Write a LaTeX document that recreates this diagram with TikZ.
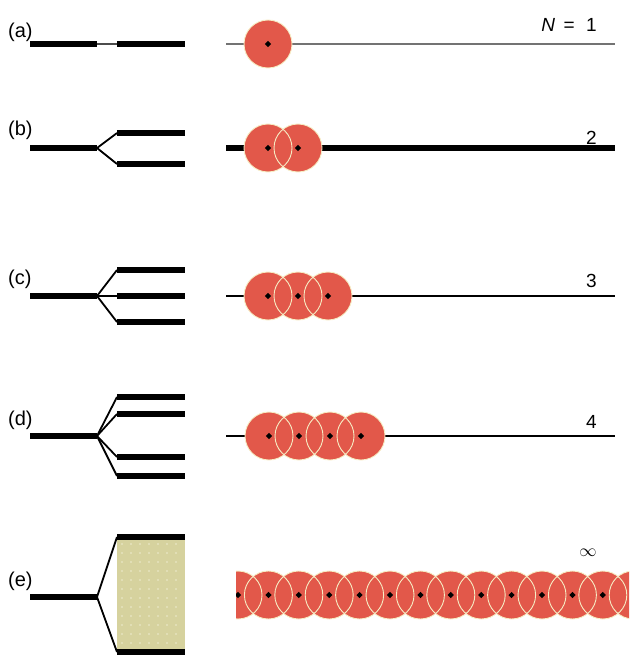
\documentclass[tikz,border=0pt]{standalone}
\usepackage{fontspec}
\setmainfont{Liberation Sans}
\definecolor{beadred}{RGB}{226,88,74}
\definecolor{beadrim}{RGB}{246,236,196}
\definecolor{cladding}{RGB}{214,210,158}
\definecolor{claddot}{RGB}{238,236,205}
\begin{document}
\begin{tikzpicture}[x=1pt,y=-1pt,
  fiber/.style={line width=5.5pt,black},
  taper/.style={line width=1.8pt,black},
  thinfiber/.style={line width=1.5pt,black},
  caselabel/.style={font=\fontsize{20}{20}\selectfont,anchor=base west,inner sep=0pt},
  countlabel/.style={font=\fontsize{19}{19}\selectfont,anchor=base east,inner sep=0pt},
  bead/.style={fill=beadred},
  rim/.style={draw=beadrim,line width=0.9pt},
  core/.style={fill=black,rotate=45,minimum size=4.4pt,inner sep=0pt,draw=none,rectangle}]
\useasboundingbox (0,0) rectangle (629,655);

% beads along a line: #1 = y, #2 = list of centre x
\newcommand{\beadrow}[2]{%
  \foreach \cx in {#2} \fill[bead] (\cx,#1) circle[radius=24];
  \foreach \cx in {#2} \draw[rim] (\cx,#1) circle[radius=24];
  \foreach \cx in {#2} \node[core] at (\cx,#1) {};
}

% ---------- (a) ----------
\node[caselabel] (la) at (8,38) {(a)};
\coordinate (a0) at (30,44); \coordinate (a1) at (97,44);
\coordinate (a2) at (117,44); \coordinate (a3) at (185,44);
\draw[fiber] (a0) -- (a1);
\draw[line width=1.6pt,black!70] (a1) -- (a2);
\draw[fiber] (a2) -- (a3);
\coordinate (ra0) at (226,44); \coordinate (ra1) at (615,44);
\draw[line width=2.6pt,black!55] (ra0) -- (ra1);
\beadrow{44}{268}
\node[countlabel] (na) at (597,32) {\textit{N}\, =\,\, 1};

% ---------- (b) ----------
\node[caselabel] (lb) at (8,136) {(b)};
\coordinate (b0) at (30,148); \coordinate (b1) at (97,148);
\draw[fiber] (b0) -- (b1);
\foreach \yy in {133,164} {
  \draw[taper] (b1) -- (117,\yy);
  \draw[fiber] (117,\yy) -- (185,\yy);
}
\coordinate (rb0) at (226,148); \coordinate (rb1) at (615,148);
\draw[fiber] (rb0) -- (rb1);
\beadrow{148}{268,298}
\node[countlabel] (nb) at (597,145) {2};

% ---------- (c) ----------
\node[caselabel] (lc) at (8,284) {(c)};
\coordinate (c0) at (30,296); \coordinate (c1) at (97,296);
\draw[fiber] (c0) -- (c1);
\foreach \yy in {270,296,322} {
  \draw[taper] (c1) -- (117,\yy);
  \draw[fiber] (117,\yy) -- (185,\yy);
}
\coordinate (rc0) at (226,296); \coordinate (rc1) at (615,296);
\draw[thinfiber] (rc0) -- (rc1);
\beadrow{296}{268,298,328}
\node[countlabel] (nc) at (597,287) {3};

% ---------- (d) ----------
\node[caselabel] (ld) at (8,425) {(d)};
\coordinate (d0) at (30,436); \coordinate (d1) at (97,436);
\draw[fiber] (d0) -- (d1);
\foreach \yy in {397,414,457,476} {
  \draw[taper] (d1) -- (117,\yy);
  \draw[fiber] (117,\yy) -- (185,\yy);
}
\coordinate (rd0) at (226,436); \coordinate (rd1) at (615,436);
\draw[thinfiber] (rd0) -- (rd1);
\beadrow{436}{269,299,330,361}
\node[countlabel] (nd) at (597,428) {4};

% ---------- (e) ----------
\node[caselabel] (le) at (8,586) {(e)};
\coordinate (e0) at (30,597); \coordinate (e1) at (97,597);
\draw[fiber] (e0) -- (e1);
\fill[cladding] (117,537) rectangle (185,652);
\foreach \gx in {122,131,...,182}
  \foreach \gy in {544,553,...,648}
    \fill[claddot] (\gx,\gy) circle[radius=0.8];
\draw[taper] (e1) -- (117,537);
\draw[taper] (e1) -- (117,652);
\draw[fiber] (117,537) -- (185,537);
\draw[fiber] (117,652) -- (185,652);
\begin{scope}
  \clip (236,560) rectangle (629,630);
  \beadrow{595}{238,268.4,...,660}
\end{scope}
\node[font=\fontsize{17}{17}\selectfont,inner sep=0pt] (ne) at (588,553) {$\infty$};
\end{tikzpicture}
\end{document}
